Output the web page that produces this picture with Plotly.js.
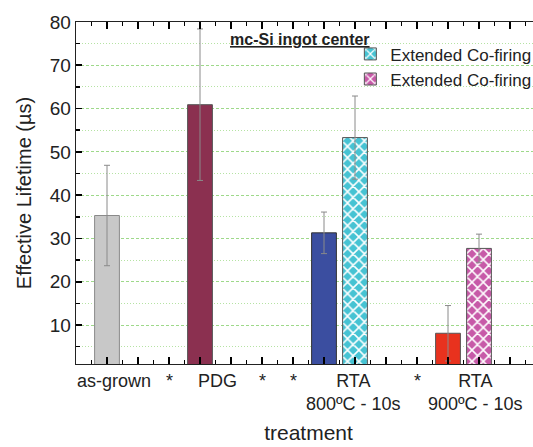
<!DOCTYPE html>
<html>
<head>
<meta charset="utf-8">
<script src="https://cdn.plot.ly/plotly-3.0.1.min.js"></script>
<style>
html,body{margin:0;padding:0;overflow:hidden;background:#fff;}
#chart{width:560px;height:447px;}
</style>
</head>
<body>
<div id="chart"></div>
<script>
// Slot index of each treatment label on the x axis (one slot per bar)
const tickLabels = ["as-grown", "*", "PDG", "*", "*", "RTA<br>800ºC - 10s", "*", "RTA<br>900ºC - 10s"];
const tickSlots  = [1.23, 3, 4.55, 6, 7, 8.95, 11, 12.9];

// Series: standard process
const stdSlots  = [1, 4, 8, 12];
const stdNames  = ["as-grown", "PDG", "RTA 800ºC - 10s", "RTA 900ºC - 10s"];
const stdValues = [35.3, 60.9, 31.3, 8.1];
const stdErrors = [11.6, 17.5, 4.8, 6.4];
const stdColors = ["#c8c8c8", "#8b3050", "#3b4ea0", "#e8321e"];

// Series: extended co-firing
const extSlots  = [9, 13];
const extNames  = ["Extended Co-firing", "Extended Co-firing"];
const extValues = [53.3, 27.7];
const extErrors = [9.6, 3.3];
const extColors = ["#46c3d3", "#c75aa8"];

const font = "Liberation Sans, Arial, sans-serif";
const errStyle = {type: "data", color: "#8a8a8a", thickness: 1, width: 3};

const traces = [];
traces.push({
  type: "bar", x: stdSlots, y: stdValues, width: 0.8,
  hovertext: stdNames, hoverinfo: "text+y",
  marker: {color: stdColors, line: {color: ["#8a8a8a", "#555", "#333", "#555"], width: 1}},
  error_y: Object.assign({array: stdErrors}, errStyle),
  showlegend: false
});
for (let i = 0; i < extSlots.length; i++) {
  traces.push({
    type: "bar", x: [extSlots[i]], y: [extValues[i]], width: 0.8,
    name: extNames[i],
    marker: {
      color: extColors[i],
      line: {color: "#555", width: 1},
      pattern: {shape: "x", fgcolor: "#ffffff", bgcolor: extColors[i], size: 8, solidity: 0.35}
    },
    error_y: Object.assign({array: [extErrors[i]]}, errStyle),
    showlegend: true
  });
}

// category labels placed under the axis at their slots
const labelAnnotations = tickLabels.map((t, i) => ({
  text: t, xref: "x", yref: "paper", x: tickSlots[i], y: 0,
  xanchor: "center", yanchor: "top", yshift: -5, showarrow: false,
  font: {size: 18, family: font, color: "#222"}
}));

const layout = {
  width: 560, height: 447,
  margin: {l: 76, r: 19, t: 22, b: 83},
  paper_bgcolor: "#fff", plot_bgcolor: "#fff",
  font: {family: font, color: "#222"},
  barmode: "overlay",
  showlegend: true,
  legend: {
    x: 0.59, y: 0.958, xanchor: "left", yanchor: "top",
    bgcolor: "rgba(0,0,0,0)", borderwidth: 0,
    font: {size: 17, family: font, color: "#222"},
    tracegroupgap: 0
  },
  xaxis: {
    range: [0, 15], tick0: 0, dtick: 1,
    ticks: "inside", ticklen: 7, tickcolor: "#000", tickwidth: 1.6,
    minor: {ticks: "inside", dtick: 0.5, ticklen: 4, tickcolor: "#000", tickwidth: 1.5},
    showticklabels: false, showgrid: false, zeroline: false,
    showline: true, linecolor: "#222", linewidth: 1.3, mirror: "ticks",
    title: {text: "treatment", font: {size: 21, family: font, color: "#222"}, standoff: 61},
    automargin: false
  },
  yaxis: {
    range: [1, 80], tick0: 0, dtick: 10,
    ticks: "inside", ticklen: 6, tickcolor: "#000", tickwidth: 1.6,
    minor: {ticks: "inside", dtick: 5, ticklen: 4, tickcolor: "#000", tickwidth: 1.5,
            showgrid: true, gridcolor: "#b5e3a3", griddash: "1px,2px", gridwidth: 1},
    showgrid: true, gridcolor: "#9ed98a", griddash: "3px,2px", gridwidth: 1,
    zeroline: false,
    showline: true, linecolor: "#222", linewidth: 1.3, mirror: "ticks",
    tickfont: {size: 19, family: font, color: "#222"},
    title: {text: "Effective Lifetime (µs)", font: {size: 20, family: font, color: "#222"}, standoff: 12},
    automargin: false
  },
  annotations: [{
    text: "<b><u>mc-Si ingot center</u></b>",
    xref: "paper", yref: "paper", x: 0.482, y: 0.949,
    xanchor: "center", yanchor: "middle", showarrow: false,
    font: {size: 16, family: font, color: "#222"}
  }].concat(labelAnnotations)
};

Plotly.newPlot("chart", traces, layout, {displayModeBar: false, staticPlot: true});
</script>
</body>
</html>
